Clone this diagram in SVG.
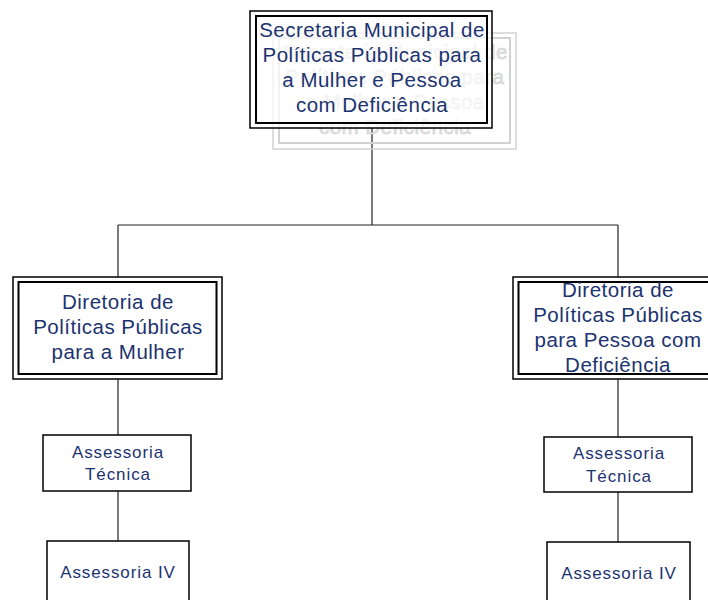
<svg xmlns="http://www.w3.org/2000/svg" width="708" height="600" viewBox="0 0 708 600">
<style>
.bg{fill:#fff}
.o{fill:none;stroke:#000;stroke-width:1.5}
.m{fill:#fff;fill-opacity:0.7;stroke:#000;stroke-width:1.5}
.i{fill:none;stroke:#000;stroke-width:2}
.s{fill:#fff;stroke:#000;stroke-width:1.5}
.go{fill:none;stroke:#d2d2d2;stroke-width:1.5}
.gi{fill:none;stroke:#d2d2d2;stroke-width:2}
.t{font-family:"Liberation Sans",Arial,sans-serif;font-size:20.5px;letter-spacing:0.5px;fill:#1c3370;text-anchor:middle}
.g{font-family:"Liberation Sans",Arial,sans-serif;font-size:20.5px;letter-spacing:0.5px;fill:#e6e6e6;stroke:#c8c8c8;stroke-width:0.5;text-anchor:middle}
.a{font-family:"Liberation Sans",Arial,sans-serif;font-size:17px;letter-spacing:0.9px;fill:#1c3370;text-anchor:middle}
.c{fill:none;stroke:#222;stroke-width:1.2}
</style>
<rect class="bg" x="0" y="0" width="708" height="600"/>
<g id="connectors">
<path class="c" d="M372 128V225M118 225H618M118 225V277M618 225V277M118 379V435M118 491V541M618 379V437M618 492V542"/>
</g>
<g id="secretaria">
<g id="secretaria-shadow">
<rect class="go" x="273" y="33" width="243" height="116"/>
<rect class="gi" x="279" y="38" width="231" height="105"/>
<text class="g" x="395" y="59">Secretaria Municipal de</text>
<text class="g" x="395" y="84">Políticas Públicas para</text>
<text class="g" x="395" y="109">a Mulher e Pessoa</text>
<text class="g" x="395" y="134">com Deficiência</text>
</g>
<rect class="m" x="250" y="11" width="242" height="117"/>
<rect class="i" x="256" y="16" width="231" height="107"/>
<text class="t" x="372" y="37">Secretaria Municipal de</text>
<text class="t" x="372" y="62">Políticas Públicas para</text>
<text class="t" x="372" y="87">a Mulher e Pessoa</text>
<text class="t" x="372" y="112">com Deficiência</text>
</g>
<g id="diretoria-mulher">
<rect class="o" x="13" y="277" width="209" height="102"/>
<rect class="i" x="18.5" y="282" width="198" height="92"/>
<text class="t" x="118" y="309">Diretoria de</text>
<text class="t" x="118" y="334">Políticas Públicas</text>
<text class="t" x="118" y="359">para a Mulher</text>
</g>
<g id="diretoria-deficiencia">
<rect class="o" x="513" y="277" width="209" height="102"/>
<rect class="i" x="518.5" y="282" width="198" height="92"/>
<text class="t" x="618" y="297">Diretoria de</text>
<text class="t" x="618" y="322">Políticas Públicas</text>
<text class="t" x="618" y="347">para Pessoa com</text>
<text class="t" x="618" y="372">Deficiência</text>
</g>
<g id="assessoria-tecnica-esq">
<rect class="s" x="43" y="435" width="148" height="56"/>
<text class="a" x="118" y="458">Assessoria</text>
<text class="a" x="118" y="480">Técnica</text>
</g>
<g id="assessoria-iv-esq">
<rect class="s" x="47" y="541" width="142" height="64"/>
<text class="a" x="118" y="578">Assessoria IV</text>
</g>
<g id="assessoria-tecnica-dir">
<rect class="s" x="544" y="437" width="148" height="55"/>
<text class="a" x="619" y="459">Assessoria</text>
<text class="a" x="619" y="482">Técnica</text>
</g>
<g id="assessoria-iv-dir">
<rect class="s" x="547" y="542" width="143" height="64"/>
<text class="a" x="619" y="579">Assessoria IV</text>
</g>
</svg>
